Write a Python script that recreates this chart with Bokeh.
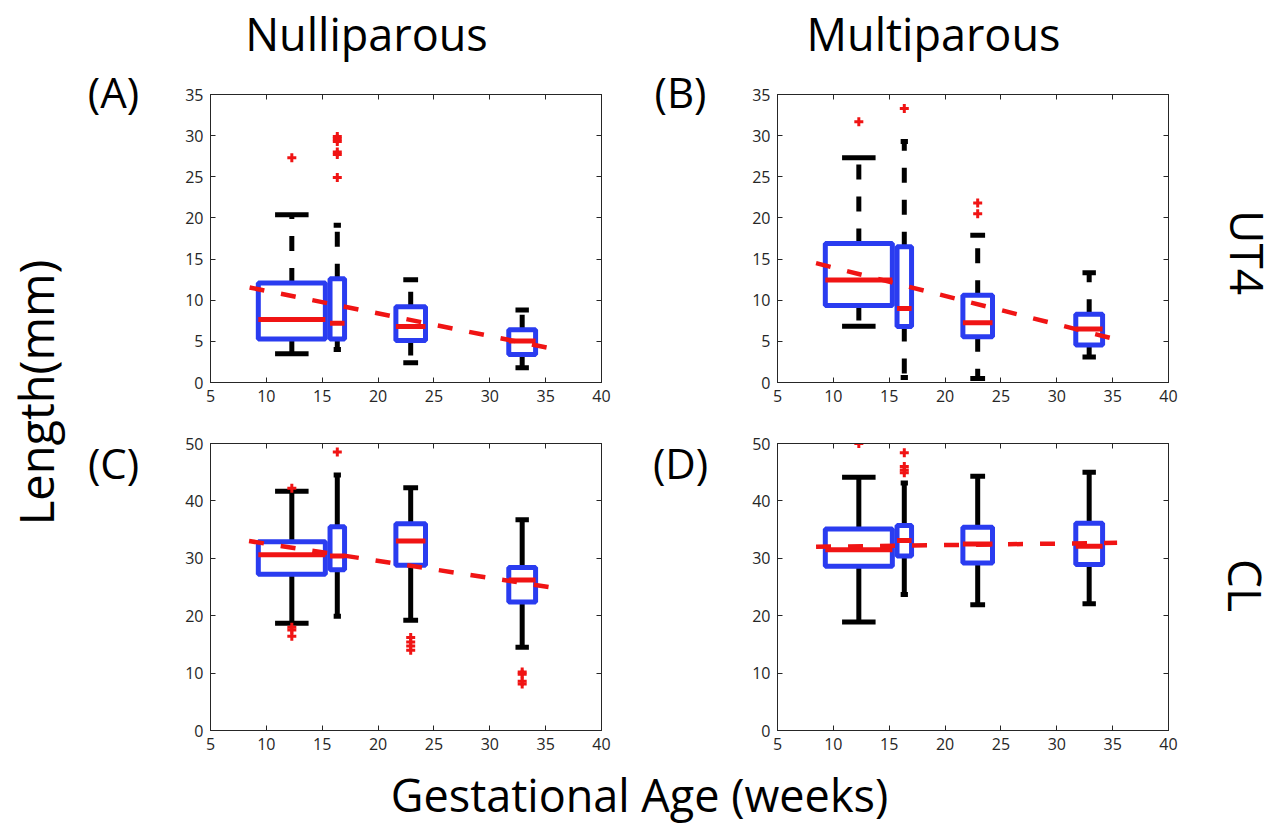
import math
from bokeh.plotting import figure
from bokeh.models import Range1d, FixedTicker, LinearAxis, Label
from bokeh.layouts import column, row
from bokeh.embed import file_html
from bokeh.resources import INLINE

FONT = "Open Sans"
BLUE = "#2a3cf0"
RED = "#f01414"
BLACK = "#000000"
AXC = "#262626"

# ---------------- data ----------------
x_ticks = [5, 10, 15, 20, 25, 30, 35, 40]
ut4_ticks = [0, 5, 10, 15, 20, 25, 30, 35]
cl_ticks = [0, 10, 20, 30, 40, 50]

positions = [12.28, 16.35, 22.92, 32.9]
box_widths = [6.0, 1.3, 2.65, 2.4]

# (A) UT4 nulliparous
a_q1 = [5.3, 5.3, 5.1, 3.4]
a_med = [7.65, 7.2, 6.8, 5.05]
a_q3 = [12.1, 12.6, 9.2, 6.4]
a_lo = [3.5, 4.0, 2.4, 1.8]
a_hi = [20.4, 19.1, 12.5, 8.8]
a_out = [[27.3], [29.9, 29.6, 29.3, 28.0, 27.7, 24.9], [], []]
a_trend_x = [8.5, 35.1]
a_trend_y = [11.55, 4.25]

# (B) UT4 multiparous
b_q1 = [9.35, 6.8, 5.55, 4.55]
b_med = [12.45, 9.0, 7.25, 6.5]
b_q3 = [16.9, 16.5, 10.6, 8.3]
b_lo = [6.85, 0.6, 0.5, 3.1]
b_hi = [27.3, 29.3, 17.9, 13.35]
b_out = [[31.7], [33.3], [21.8, 20.5], []]
b_trend_x = [8.45, 34.85]
b_trend_y = [14.5, 5.4]

# (C) CL nulliparous
c_q1 = [27.2, 28.0, 28.8, 22.4]
c_med = [30.6, 30.4, 33.0, 26.2]
c_q3 = [32.9, 35.5, 36.0, 28.4]
c_lo = [18.7, 19.9, 19.2, 14.5]
c_hi = [41.7, 44.5, 42.3, 36.7]
c_out = [[42.2, 18.0, 17.5, 16.4], [48.5], [16.2, 15.4, 14.7, 14.0], [10.2, 9.8, 8.6, 8.1]]
c_trend_x = [8.45, 35.3]
c_trend_y = [33.0, 25.0]

# (D) CL multiparous
d_q1 = [28.6, 30.4, 29.2, 28.9]
d_med = [31.5, 33.1, 32.5, 32.1]
d_q3 = [35.1, 35.7, 35.4, 36.1]
d_lo = [18.9, 23.7, 21.9, 22.1]
d_hi = [44.1, 43.1, 44.3, 45.0]
d_out = [[50.0], [48.4, 46.0, 45.4, 44.9], [], []]
d_trend_x = [8.45, 35.4]
d_trend_y = [32.0, 32.7]

col_titles = ["Nulliparous", "Multiparous"]
row_titles = ["UT4", "CL"]
panel_tags = ["(A)", "(B)", "(C)", "(D)"]
x_title = "Gestational Age (weeks)"
y_title = "Length(mm)"


def axis(ticks, labels=True):
    ax = LinearAxis(
        ticker=FixedTicker(ticks=ticks),
        major_tick_in=5, major_tick_out=0,
        minor_tick_line_color=None,
        axis_line_color=AXC, axis_line_width=1,
        major_tick_line_color=AXC,
        major_label_text_font=FONT,
        major_label_text_font_size="16px",
        major_label_text_color=AXC,
        major_label_standoff=7 if labels else 0,
    )
    if not labels:
        ax.major_label_overrides = {t: "" for t in ticks}
    return ax


def panel(width, height, left, top, fw, fh, ymax, yticks,
          q1, med, q3, lo, hi, outs, tx, ty, dashed):
    p = figure(width=width, height=height,
               x_range=Range1d(5, 40), y_range=Range1d(0, ymax),
               output_backend="svg", toolbar_location=None,
               x_axis_location=None, y_axis_location=None,
               min_border_left=left, min_border_top=top,
               min_border_right=width - left - fw,
               min_border_bottom=height - top - fh)
    p.grid.visible = False
    p.outline_line_color = AXC
    p.add_layout(axis(x_ticks), "below")
    p.add_layout(axis(yticks), "left")
    p.add_layout(axis(x_ticks, False), "above")
    p.add_layout(axis(yticks, False), "right")

    dash = "15 17" if dashed else "solid"
    half = [w / 2 for w in box_widths]
    capw = [w / 4 for w in box_widths]
    # whiskers
    p.segment(x0=positions, y0=q3, x1=positions, y1=hi,
              line_color=BLACK, line_width=5, line_dash=dash)
    p.segment(x0=positions, y0=q1, x1=positions, y1=lo,
              line_color=BLACK, line_width=5, line_dash=dash)
    # caps
    p.segment(x0=[x - c for x, c in zip(positions, capw)], y0=hi,
              x1=[x + c for x, c in zip(positions, capw)], y1=hi,
              line_color=BLACK, line_width=5)
    p.segment(x0=[x - c for x, c in zip(positions, capw)], y0=lo,
              x1=[x + c for x, c in zip(positions, capw)], y1=lo,
              line_color=BLACK, line_width=5)
    # boxes
    p.quad(left=[x - h for x, h in zip(positions, half)],
           right=[x + h for x, h in zip(positions, half)],
           bottom=q1, top=q3, fill_color=None,
           line_color=BLUE, line_width=5)
    # medians
    p.segment(x0=[x - h for x, h in zip(positions, half)], y0=med,
              x1=[x + h for x, h in zip(positions, half)], y1=med,
              line_color=RED, line_width=5)
    # trend
    p.line(tx, ty, line_color=RED, line_width=4.5, line_dash="15 17")
    # outliers
    ox, oy = [], []
    for x, vals in zip(positions, outs):
        for v in vals:
            ox.append(x)
            oy.append(v)
    p.scatter(ox, oy, marker="cross", size=9, line_color=RED, line_width=3)
    return p


def strip(w, h):
    s = figure(width=w, height=h, x_range=Range1d(0, w), y_range=Range1d(h, 0),
               output_backend="svg", toolbar_location=None,
               x_axis_location=None, y_axis_location=None, min_border=0)
    s.grid.visible = False
    s.outline_line_color = None
    return s


def put(s, x, y, txt, size, angle=0.0):
    s.add_layout(Label(x=x, y=y, text=txt, text_font=FONT,
                       text_font_size=size, text_align="center",
                       text_baseline="middle", text_color=BLACK,
                       angle=angle))


TOP_STRIP = 63
TOP_H, BOT_H = 425 - TOP_STRIP, 335
BOTTOM_STRIP = 835 - TOP_STRIP - TOP_H - BOT_H   # 75
LEFT_W, MID_W, RIGHT_W = 160, 107, 70
A_W, B_W = 460, 485
MID_H = TOP_H + BOT_H
TOP_BORDER = 94 - TOP_STRIP

pA = panel(A_W, TOP_H, 50, TOP_BORDER, 391, 288, 35, ut4_ticks,
           a_q1, a_med, a_q3, a_lo, a_hi, a_out, a_trend_x, a_trend_y, True)
pB = panel(B_W, TOP_H, 50, TOP_BORDER, 391, 288, 35, ut4_ticks,
           b_q1, b_med, b_q3, b_lo, b_hi, b_out, b_trend_x, b_trend_y, True)
pC = panel(A_W, BOT_H, 50, 18, 391, 287, 50, cl_ticks,
           c_q1, c_med, c_q3, c_lo, c_hi, c_out, c_trend_x, c_trend_y, False)
pD = panel(B_W, BOT_H, 50, 18, 391, 287, 50, cl_ticks,
           d_q1, d_med, d_q3, d_lo, d_hi, d_out, d_trend_x, d_trend_y, False)

top = strip(1282, TOP_STRIP)
put(top, 366, 33, col_titles[0], "45px")
put(top, 933, 33, col_titles[1], "45px")

left = strip(LEFT_W, MID_H)
put(left, 35, 392 - TOP_STRIP, y_title, "47px", math.pi / 2)
put(left, 113, 91 - TOP_STRIP, panel_tags[0], "42px")
put(left, 113, 462 - TOP_STRIP, panel_tags[2], "42px")

mid = strip(MID_W, MID_H)
put(mid, 680 - (LEFT_W + A_W), 91 - TOP_STRIP, panel_tags[1], "42px")
put(mid, 680 - (LEFT_W + A_W), 462 - TOP_STRIP, panel_tags[3], "42px")

right = strip(RIGHT_W, MID_H)
put(right, 35, 252 - TOP_STRIP, row_titles[0], "46px", -math.pi / 2)
put(right, 33, 585 - TOP_STRIP, row_titles[1], "46px", -math.pi / 2)

bottom = strip(1282, BOTTOM_STRIP)
put(bottom, 639, 794 - (835 - BOTTOM_STRIP), x_title, "45px")

layout = column(
    top,
    row(left, column(pA, pC), mid, column(pB, pD), right),
    bottom,
)

open("out.html", "w").write(file_html(layout, INLINE))
